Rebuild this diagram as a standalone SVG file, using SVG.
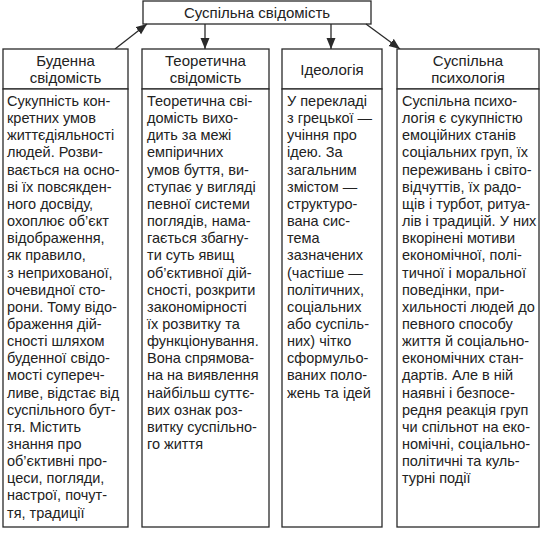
<svg xmlns="http://www.w3.org/2000/svg" width="549" height="534" viewBox="0 0 549 534">
<style>
.box{fill:#fff;stroke:#2a2a2a;stroke-width:1.3}
.hd{font-family:"Liberation Sans",Arial,sans-serif;font-size:15px;fill:#222;text-anchor:middle}
.bd{font-family:"Liberation Sans",Arial,sans-serif;font-size:14.5px;fill:#222}
.con{stroke:#2a2a2a;stroke-width:1.3;fill:none}
</style>
<defs>
<marker id="ah" markerUnits="userSpaceOnUse" markerWidth="12" markerHeight="10" refX="11" refY="4.5" orient="auto">
<path d="M0,0 L11,4.5 L0,9 z" fill="#2a2a2a"/>
</marker>
</defs>
<rect width="549" height="534" fill="#fff"/>
<g id="root">
<rect class="box" x="143" y="1" width="228" height="23"/>
<text class="hd" x="257" y="18">Суспільна свідомість</text>
</g>
<g id="connectors">
<line class="con" x1="115" y1="49" x2="147" y2="24" marker-end="url(#ah)"/>
<line class="con" x1="205" y1="24" x2="205" y2="49" marker-end="url(#ah)"/>
<line class="con" x1="331" y1="24" x2="331" y2="49" marker-end="url(#ah)"/>
<line class="con" x1="366" y1="24" x2="400" y2="49" marker-end="url(#ah)"/>
</g>
<g id="buden">
<rect class="box" x="3" y="49" width="125" height="40"/>
<rect class="box" x="3" y="89" width="125" height="438"/>
<text class="hd" x="65.5" y="66">Буденна</text>
<text class="hd" x="65.5" y="83">свідомість</text>
<text class="bd" x="7" y="106"><tspan x="7">Сукупність кон-</tspan><tspan x="7" dy="17.15">кретних умов</tspan><tspan x="7" dy="17.15">життєдіяльності</tspan><tspan x="7" dy="17.15">людей. Розви-</tspan><tspan x="7" dy="17.15">вається на осно-</tspan><tspan x="7" dy="17.15">ві їх повсякден-</tspan><tspan x="7" dy="17.15">ного досвіду,</tspan><tspan x="7" dy="17.15">охоплює об’єкт</tspan><tspan x="7" dy="17.15">відображення,</tspan><tspan x="7" dy="17.15">як правило,</tspan><tspan x="7" dy="17.15">з неприхованої,</tspan><tspan x="7" dy="17.15">очевидної сто-</tspan><tspan x="7" dy="17.15">рони. Тому відо-</tspan><tspan x="7" dy="17.15">браження дій-</tspan><tspan x="7" dy="17.15">сності шляхом</tspan><tspan x="7" dy="17.15">буденної свідо-</tspan><tspan x="7" dy="17.15">мості супереч-</tspan><tspan x="7" dy="17.15">ливе, відстає від</tspan><tspan x="7" dy="17.15">суспільного бут-</tspan><tspan x="7" dy="17.15">тя. Містить</tspan><tspan x="7" dy="17.15">знання про</tspan><tspan x="7" dy="17.15">об’єктивні про-</tspan><tspan x="7" dy="17.15">цеси, погляди,</tspan><tspan x="7" dy="17.15">настрої, почут-</tspan><tspan x="7" dy="17.15">тя, традиції</tspan></text>
</g>
<g id="teor">
<rect class="box" x="142" y="49" width="127" height="40"/>
<rect class="box" x="142" y="89" width="127" height="438"/>
<text class="hd" x="205.5" y="66">Теоретична</text>
<text class="hd" x="205.5" y="83">свідомість</text>
<text class="bd" x="147" y="106"><tspan x="147">Теоретична сві-</tspan><tspan x="147" dy="17.15">домість вихо-</tspan><tspan x="147" dy="17.15">дить за межі</tspan><tspan x="147" dy="17.15">емпіричних</tspan><tspan x="147" dy="17.15">умов буття, ви-</tspan><tspan x="147" dy="17.15">ступає у вигляді</tspan><tspan x="147" dy="17.15">певної системи</tspan><tspan x="147" dy="17.15">поглядів, нама-</tspan><tspan x="147" dy="17.15">гається збагну-</tspan><tspan x="147" dy="17.15">ти суть явищ</tspan><tspan x="147" dy="17.15">об’єктивної дій-</tspan><tspan x="147" dy="17.15">сності, розкрити</tspan><tspan x="147" dy="17.15">закономірності</tspan><tspan x="147" dy="17.15">їх розвитку та</tspan><tspan x="147" dy="17.15">функціонування.</tspan><tspan x="147" dy="17.15">Вона спрямова-</tspan><tspan x="147" dy="17.15">на на виявлення</tspan><tspan x="147" dy="17.15">найбільш суттє-</tspan><tspan x="147" dy="17.15">вих ознак роз-</tspan><tspan x="147" dy="17.15">витку суспільно-</tspan><tspan x="147" dy="17.15">го життя</tspan></text>
</g>
<g id="ideol">
<rect class="box" x="282" y="49" width="100" height="40"/>
<rect class="box" x="282" y="89" width="100" height="438"/>
<text class="hd" x="332" y="75">Ідеологія</text>
<text class="bd" x="287" y="106"><tspan x="287">У перекладі</tspan><tspan x="287" dy="17.15">з грецької —</tspan><tspan x="287" dy="17.15">учіння про</tspan><tspan x="287" dy="17.15">ідею. За</tspan><tspan x="287" dy="17.15">загальним</tspan><tspan x="287" dy="17.15">змістом —</tspan><tspan x="287" dy="17.15">структуро-</tspan><tspan x="287" dy="17.15">вана сис-</tspan><tspan x="287" dy="17.15">тема</tspan><tspan x="287" dy="17.15">зазначених</tspan><tspan x="287" dy="17.15">(частіше —</tspan><tspan x="287" dy="17.15">політичних,</tspan><tspan x="287" dy="17.15">соціальних</tspan><tspan x="287" dy="17.15">або суспіль-</tspan><tspan x="287" dy="17.15">них) чітко</tspan><tspan x="287" dy="17.15">сформульо-</tspan><tspan x="287" dy="17.15">ваних поло-</tspan><tspan x="287" dy="17.15">жень та ідей</tspan></text>
</g>
<g id="psych">
<rect class="box" x="397" y="49" width="142" height="40"/>
<rect class="box" x="397" y="89" width="142" height="438"/>
<text class="hd" x="468" y="66">Суспільна</text>
<text class="hd" x="468" y="83">психологія</text>
<text class="bd" x="402" y="106"><tspan x="402">Суспільна психо-</tspan><tspan x="402" dy="17.15">логія є сукупністю</tspan><tspan x="402" dy="17.15">емоційних станів</tspan><tspan x="402" dy="17.15">соціальних груп, їх</tspan><tspan x="402" dy="17.15">переживань і світо-</tspan><tspan x="402" dy="17.15">відчуттів, їх радо-</tspan><tspan x="402" dy="17.15">щів і турбот, ритуа-</tspan><tspan x="402" dy="17.15">лів і традицій. У них</tspan><tspan x="402" dy="17.15">вкорінені мотиви</tspan><tspan x="402" dy="17.15">економічної, полі-</tspan><tspan x="402" dy="17.15">тичної і моральної</tspan><tspan x="402" dy="17.15">поведінки, при-</tspan><tspan x="402" dy="17.15">хильності людей до</tspan><tspan x="402" dy="17.15">певного способу</tspan><tspan x="402" dy="17.15">життя й соціально-</tspan><tspan x="402" dy="17.15">економічних стан-</tspan><tspan x="402" dy="17.15">дартів. Але в ній</tspan><tspan x="402" dy="17.15">наявні і безпосе-</tspan><tspan x="402" dy="17.15">редня реакція груп</tspan><tspan x="402" dy="17.15">чи спільнот на еко-</tspan><tspan x="402" dy="17.15">номічні, соціально-</tspan><tspan x="402" dy="17.15">політичні та куль-</tspan><tspan x="402" dy="17.15">турні події</tspan></text>
</g>
</svg>
